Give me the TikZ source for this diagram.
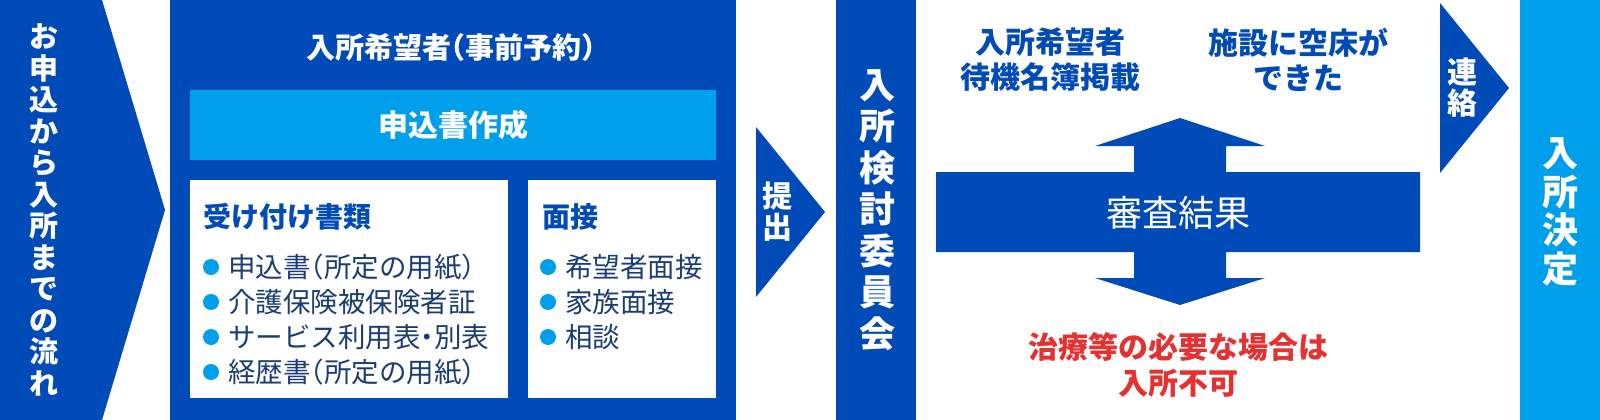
\documentclass[tikz,border=0pt]{standalone}
\usepackage{fontspec}
\setmainfont{Noto Sans CJK JP}
\usepackage{tikz}

\definecolor{mainblue}{HTML}{004BB7}
\definecolor{skyblue}{HTML}{009FEC}
\definecolor{navy}{HTML}{1B3C74}
\definecolor{alertred}{HTML}{E53131}

% half width punctuation
\newcommand{\hw}[1]{{\addfontfeature{RawFeature=+halt}#1}}

\tikzset{
	vtext/.style 2 args={text=white, align=center, inner sep=0pt, font=\bfseries\fontsize{#1}{#2}\selectfont},
	head/.style={text=mainblue, anchor=west, inner sep=0pt, font=\bfseries\fontsize{28}{28}\selectfont},
	item/.style={text=navy, anchor=west, inner sep=0pt, font=\fontsize{27.5}{27.5}\selectfont},
	dot/.style={fill=skyblue, circle, inner sep=0pt, minimum size=16},
	note/.style={align=center, inner sep=0pt, font=\bfseries\fontsize{30}{35}\selectfont}
}

\begin{document}
\begin{tikzpicture}[x=1pt, y=-1pt]
	\useasboundingbox (0, 0) rectangle (1600, 420);

	\fill[mainblue] (0, 0) -- (102, 0) -- (165, 210) -- (102, 420) -- (0, 420) -- cycle;
	\node[vtext={29}{31.5}] (flow) at (44, 210) {お\\申\\込\\か\\ら\\入\\所\\ま\\で\\の\\流\\れ};

	\fill[mainblue] (170, 0) rectangle (736, 420);
	\node[text=white, inner sep=0pt, font=\bfseries\fontsize{29}{29}\selectfont] (title) at (451, 47) {入所希望者\hw{（}事前予約\hw{）}};
	\node[fill=skyblue, minimum width=526, minimum height=70, text=white, font=\bfseries\fontsize{30}{30}\selectfont] (form) at (453, 125) {申込書作成};

	\fill[white] (190, 180) rectangle (508, 398);
	\fill[white] (528, 180) rectangle (716, 398);

	\node[head] (docs) at (203, 217) {受け付け書類};
	\node[dot] (d1) at (211, 267) {};
	\node[dot] (d2) at (211, 302) {};
	\node[dot] (d3) at (211, 337) {};
	\node[dot] (d4) at (211, 372) {};
	\node[item] (doc1) at (228, 267) {申込書\hw{（}所定の用紙\hw{）}};
	\node[item] (doc2) at (228, 302) {介護保険被保険者証};
	\node[item] (doc3) at (228, 337) {サービス利用表\hw{・}別表};
	\node[item] (doc4) at (228, 372) {経歴書\hw{（}所定の用紙\hw{）}};

	\node[head] (talk) at (542, 217) {面接};
	\node[dot] (t1) at (548, 267) {};
	\node[dot] (t2) at (548, 302) {};
	\node[dot] (t3) at (548, 337) {};
	\node[item] (talk1) at (565, 267) {希望者面接};
	\node[item] (talk2) at (565, 302) {家族面接};
	\node[item] (talk3) at (565, 337) {相談};

	\fill[mainblue] (756, 127) -- (825, 212) -- (756, 297) -- cycle;
	\node[vtext={30}{31}] (submit) at (777, 212) {提\\出};

	\fill[mainblue] (836, 0) rectangle (916, 420);
	\node[vtext={36}{41.5}] (board) at (877, 210) {入\\所\\検\\討\\委\\員\\会};

	\node[note, text=mainblue] (wait) at (1050, 60) {入所希望者\\待機名簿掲載};
	\node[note, text=mainblue] (vacant) at (1298, 60) {施設に空床が\\できた};

	\fill[mainblue] (1180, 118) -- (1265, 146) -- (1226, 146) -- (1226, 172) -- (1420, 172)
		-- (1420, 252) -- (1226, 252) -- (1226, 278) -- (1265, 278) -- (1180, 305)
		-- (1095, 278) -- (1134, 278) -- (1134, 252) -- (936, 252) -- (936, 172)
		-- (1134, 172) -- (1134, 146) -- (1095, 146) -- cycle;
	\node[text=white, inner sep=0pt, font=\fontsize{36}{36}\selectfont] (result) at (1178, 213) {審査結果};

	\node[note, text=alertred, font=\bfseries\fontsize{30}{36}\selectfont] (refuse) at (1178, 365) {治療等の必要な場合は\\入所不可};

	\fill[mainblue] (1440, 3) -- (1509, 88) -- (1440, 173) -- cycle;
	\node[vtext={30}{31}] (contact) at (1462, 88) {連\\絡};

	\fill[skyblue] (1520, 0) rectangle (1600, 420);
	\node[vtext={36}{38.5}] (decide) at (1560, 212) {入\\所\\決\\定};

\end{tikzpicture}
\end{document}
